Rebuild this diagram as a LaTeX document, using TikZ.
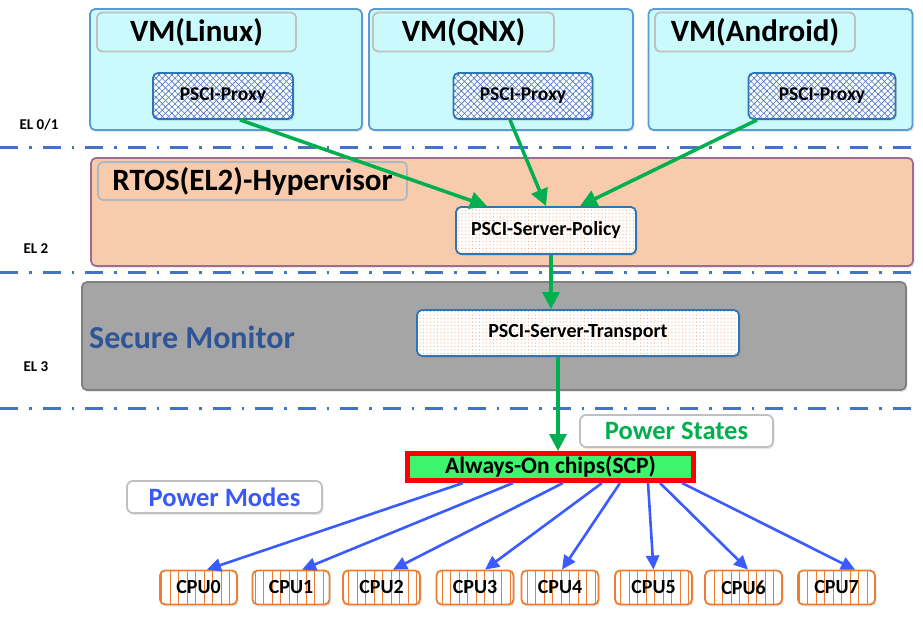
\documentclass[tikz,border=0pt]{standalone}
\usepackage{fontspec}
\setmainfont{Carlito}
\usetikzlibrary{arrows.meta,patterns.meta,shadows}
\definecolor{vmfill}{HTML}{CAFAFC}
\definecolor{vmborder}{HTML}{5B9BD5}
\definecolor{graybd}{HTML}{C0C0C0}
\definecolor{pxborder}{HTML}{2E75B6}
\definecolor{hatch}{HTML}{4472C4}
\definecolor{rtosfill}{HTML}{F8CBAD}
\definecolor{rtosbd}{HTML}{9E6C93}
\definecolor{rtostitlebd}{HTML}{AAB8C8}
\definecolor{smfill}{HTML}{A5A5A5}
\definecolor{smbd}{HTML}{7F7F7F}
\definecolor{smblue}{HTML}{2F5597}
\definecolor{dots}{HTML}{F4B183}
\definecolor{scpfill}{HTML}{3DF56C}
\definecolor{scpred}{HTML}{FF0000}
\definecolor{psgreen}{HTML}{00B050}
\definecolor{pmblue}{HTML}{3A58F5}
\definecolor{cpuor}{HTML}{ED7D31}
\definecolor{elline}{HTML}{4472C4}
\definecolor{garrow}{HTML}{00B050}
\definecolor{barrow}{HTML}{3A5BFF}
\newcommand\myfs[1]{\fontsize{#1}{#1}\selectfont\bfseries}
\begin{document}
\begin{tikzpicture}[x=1pt,y=-1pt,
  myshadow/.style={drop shadow={shadow xshift=1.5pt,shadow yshift=-2pt,opacity=0.15,fill=black!60}},
  vmbox/.style={myshadow,rounded corners=5pt,draw=vmborder,fill=vmfill,line width=1.8pt,inner sep=0pt},
  titlebox/.style={rounded corners=5pt,draw=graybd,line width=1.8pt,inner sep=0pt,font=\myfs{31}},
  proxybox/.style={myshadow,rounded corners=5pt,draw=pxborder,line width=1.8pt,inner sep=0pt,
     preaction={fill=white},
     preaction={pattern={Lines[angle=45,distance=4.5pt,line width=0.6pt]},pattern color=hatch},
     preaction={pattern={Lines[angle=-45,distance=4.5pt,line width=0.6pt]},pattern color=hatch},
     font=\myfs{19.5}},
  dotbox/.style={myshadow,rounded corners=5pt,draw=pxborder,line width=1.8pt,inner sep=0pt,
     preaction={fill=white},
     preaction={pattern={Dots[distance=3.5pt,radius=0.6pt]},pattern color=dots},
     font=\myfs{20}},
  labelbox/.style={myshadow,rounded corners=6pt,draw=graybd,fill=white,line width=1.8pt,inner sep=0pt,font=\myfs{26.5}},
  cpubox/.style={myshadow,rounded corners=5pt,draw=cpuor,line width=1.8pt,inner sep=0pt,
     minimum width=77pt,minimum height=34pt,
     preaction={fill=white},
     preaction={pattern={Lines[angle=90,distance=8.5pt,line width=0.8pt]},pattern color=cpuor},
     font=\myfs{20}},
  ellab/.style={font=\myfs{15}},
  elsep/.style={draw=elline,line width=3pt,dash pattern=on 18pt off 11pt on 2.5pt off 11pt},
  garr/.style={draw=garrow,line width=3.5pt,-{Triangle[length=17pt,width=17pt]}},
  barr/.style={draw=barrow,line width=2.6pt,-{Triangle[length=14pt,width=13pt]}}
]
\useasboundingbox (0,0) rectangle (923,616);

% separators
\draw[elsep] (0,147) -- (912,147);
\draw[elsep] (0,272) -- (912,272);
\draw[elsep] (0,408) -- (912,408);

% EL labels
\node[ellab] (el01) at (39,125) {EL 0/1};
\node[ellab] (el2) at (36,249) {EL 2};
\node[ellab] (el3) at (36,367) {EL 3};

% VMs
\node[vmbox,minimum width=272pt,minimum height=121pt] (vmL) at (226,69.5) {};
\node[vmbox,minimum width=264pt,minimum height=121pt] (vmQ) at (501,69.5) {};
\node[vmbox,minimum width=264pt,minimum height=121pt] (vmA) at (780.5,69.5) {};
\node[titlebox,minimum width=199pt,minimum height=39pt] (tL) at (196.5,32) {VM(Linux)};
\node[titlebox,minimum width=181pt,minimum height=39pt] (tQ) at (463.5,32) {VM(QNX)};
\node[titlebox,minimum width=200pt,minimum height=39pt] (tA) at (755,32) {VM(Android)};
\node[proxybox,minimum width=140pt,minimum height=46pt] (pxL) at (223,96) {PSCI-Proxy};
\node[proxybox,minimum width=139pt,minimum height=46pt] (pxQ) at (523,96) {PSCI-Proxy};
\node[proxybox,minimum width=147pt,minimum height=46pt] (pxA) at (822,96) {PSCI-Proxy};

% RTOS
\node[myshadow,rounded corners=5pt,draw=rtosbd,fill=rtosfill,line width=1.8pt,inner sep=0pt,
      minimum width=822pt,minimum height=108pt] (rtos) at (502,212) {};
\node[rounded corners=5pt,draw=rtostitlebd,line width=1.8pt,inner sep=0pt,font=\myfs{31},
      minimum width=309pt,minimum height=38pt] (rtost) at (252.5,181) {RTOS(EL2)-Hypervisor};
\node[dotbox,minimum width=180pt,minimum height=47pt] (pol) at (546,230.5) {PSCI-Server-Policy};

% Secure Monitor
\node[myshadow,rounded corners=5pt,draw=smbd,fill=smfill,line width=1.8pt,inner sep=0pt,
      minimum width=824pt,minimum height=108pt] (sm) at (494,336) {};
\node[anchor=west,text=smblue,font=\myfs{32},inner sep=0pt] (smt) at (89,337) {Secure Monitor};
\node[dotbox,minimum width=322pt,minimum height=46pt] (trans) at (578,333) {PSCI-Server-Transport};

% SCP and labels
\node[labelbox,text=psgreen,minimum width=193pt,minimum height=32pt] (ps) at (676.5,431) {Power States};
\node[labelbox,text=pmblue,minimum width=195pt,minimum height=32pt] (pm) at (224.5,497) {Power Modes};
\node[myshadow,draw=scpred,fill=scpfill,line width=5pt,inner sep=0pt,font=\myfs{23.5},
      minimum width=286pt,minimum height=27pt] (scp) at (550.5,467) {Always-On chips(SCP)};

% green arrows
\draw[garr] ([xshift=17pt]pxL.south) -- ([xshift=-59pt]pol.north);
\draw[garr] ([xshift=-13pt]pxQ.south) -- (pol.north);
\draw[garr] ([xshift=-65pt]pxA.south) -- ([xshift=34pt]pol.north);
\draw[garr] ([xshift=5pt]pol.south) -- ([xshift=5pt]pol.south |- trans.north);
\draw[garr] ([xshift=-20pt]trans.south) -- ([xshift=-20pt]trans.south |- scp.north);

% CPUs
\foreach \i/\cx/\sx/\ex in {0/198.5/-87.5/8.5, 1/291/-37.5/11, 2/381.5/12.5/11.5, 3/475/51.5/10,
    4/560/69.5/2, 5/653.5/97.5/0, 6/743.5/109.5/4.5, 7/836.5/131.5/18.5}{
  \node[cpubox] (cpu\i) at (\cx,587.5) {CPU\i};
  \draw[barr] ([xshift=\sx pt]scp.south) -- ([xshift=\ex pt]cpu\i.north);
}
\end{tikzpicture}
\end{document}
